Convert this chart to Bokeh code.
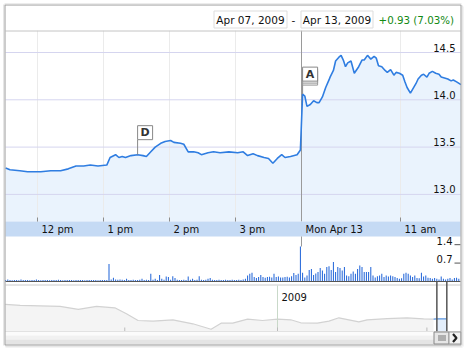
import numpy as np
import pandas as pd
from bokeh.plotting import figure
from bokeh.models import Range1d
from bokeh.core.properties import value
from bokeh.embed import file_html
from bokeh.resources import INLINE

# ---------------- data ----------------
thu_times = ["11:31", "11:35", "11:44", "11:51", "12:03", "12:12", "12:21", "12:28", "12:35", "12:42",
             "12:48", "12:55", "13:03", "13:06", "13:11", "13:14", "13:17", "13:20", "13:25", "13:31",
             "13:36", "13:39", "13:43", "13:47", "13:52", "13:56", "14:01", "14:04", "14:10", "14:13",
             "14:17", "14:22", "14:26", "14:29", "14:35", "14:40", "14:46", "14:54", "15:02", "15:07",
             "15:11", "15:16", "15:20", "15:26", "15:30", "15:34", "15:38", "15:42", "15:45", "15:50",
             "15:56", "15:59"]
thu_prices = [13.28, 13.26, 13.25, 13.24, 13.24, 13.25, 13.25, 13.27, 13.30, 13.30,
              13.31, 13.30, 13.31, 13.39, 13.42, 13.39, 13.40, 13.39, 13.41, 13.42,
              13.41, 13.40, 13.45, 13.50, 13.54, 13.56, 13.57, 13.55, 13.54, 13.53,
              13.45, 13.45, 13.44, 13.42, 13.44, 13.45, 13.44, 13.45, 13.44, 13.45,
              13.41, 13.43, 13.41, 13.39, 13.38, 13.33, 13.38, 13.42, 13.39, 13.40,
              13.42, 13.47]
mon_times = ["09:31", "09:33", "09:35", "09:38", "09:41", "09:44", "09:46", "09:49", "09:52", "09:55",
             "09:56", "09:59", "10:01", "10:04", "10:06", "10:08", "10:10", "10:12", "10:15", "10:18",
             "10:22", "10:25", "10:27", "10:30", "10:33", "10:36", "10:38", "10:40", "10:43", "10:46",
             "10:48", "10:51", "10:54", "10:56", "10:59", "11:02", "11:04", "11:06", "11:09", "11:14",
             "11:16", "11:19", "11:21", "11:24", "11:26", "11:29", "11:32", "11:35", "11:37", "11:40",
             "11:43", "11:46", "11:48", "11:51", "11:55"]
mon_prices = [14.06, 14.04, 13.93, 13.95, 13.99, 13.97, 13.97, 14.03, 14.13, 14.21,
              14.24, 14.31, 14.41, 14.45, 14.47, 14.42, 14.35, 14.39, 14.41, 14.28,
              14.35, 14.42, 14.42, 14.47, 14.43, 14.46, 14.44, 14.36, 14.35, 14.31,
              14.29, 14.32, 14.26, 14.29, 14.28, 14.26, 14.19, 14.13, 14.07, 14.17,
              14.22, 14.26, 14.27, 14.24, 14.28, 14.30, 14.28, 14.27, 14.24, 14.23,
              14.22, 14.20, 14.21, 14.19, 14.16]

# 2-minute volume bars (millions)
vol_thu = [0.06, 0.08, 0.06, 0.05, 0.06, 0.06, 0.05, 0.08, 0.06, 0.06,
           0.06, 0.05, 0.06, 0.06, 0.08, 0.06, 0.05, 0.06, 0.06, 0.06,
           0.05, 0.06, 0.06, 0.06, 0.07, 0.06, 0.05, 0.06, 0.06, 0.06,
           0.06, 0.05, 0.06, 0.06, 0.06, 0.06, 0.05, 0.06, 0.06, 0.06,
           0.06, 0.06, 0.05, 0.06, 0.06, 0.06, 0.06, 0.67, 0.08, 0.14,
           0.08, 0.07, 0.08, 0.07, 0.06, 0.10, 0.06, 0.06, 0.07, 0.06,
           0.06, 0.07, 0.10, 0.06, 0.07, 0.06, 0.29, 0.07, 0.10, 0.06,
           0.25, 0.10, 0.07, 0.19, 0.17, 0.07, 0.20, 0.13, 0.07, 0.06,
           0.06, 0.07, 0.06, 0.19, 0.07, 0.10, 0.06, 0.07, 0.20, 0.07,
           0.06, 0.07, 0.10, 0.13, 0.07, 0.06, 0.06, 0.07, 0.06, 0.06,
           0.07, 0.06, 0.06, 0.07, 0.06, 0.06, 0.07, 0.06, 0.08, 0.10,
           0.23, 0.29, 0.33, 0.17, 0.13, 0.17, 0.25, 0.17, 0.14, 0.17,
           0.18, 0.15, 0.29, 0.17, 0.19, 0.15, 0.15, 0.17, 0.18, 0.15,
           0.20, 0.32, 0.25, 0.29, 1.33]
vol_mon = [0.33, 0.15, 0.23, 0.44, 0.48, 0.25, 0.30, 0.36, 0.51, 0.42,
           0.29, 0.55, 0.58, 0.44, 0.74, 0.36, 0.55, 0.51, 0.42, 0.55,
           0.23, 0.20, 0.29, 0.38, 0.29, 0.48, 0.61, 0.55, 0.36, 0.36,
           0.36, 0.55, 0.23, 0.15, 0.20, 0.23, 0.29, 0.17, 0.23, 0.19,
           0.23, 0.20, 0.17, 0.13, 0.10, 0.12, 0.29, 0.33, 0.29, 0.23,
           0.17, 0.23, 0.13, 0.12, 0.33, 0.19, 0.23, 0.14, 0.13, 0.10,
           0.13, 0.10, 0.08, 0.19, 0.10, 0.08, 0.10, 0.13, 0.08, 0.13,
           0.14, 0.10]

hour_ticks = [("thu", "12:00"), ("thu", "13:00"), ("thu", "14:00"), ("thu", "15:00"),
              ("mon", "09:30"), ("mon", "11:00")]
hour_labels = ["12 pm", "1 pm", "2 pm", "3 pm", "Mon Apr 13", "11 am"]
price_ticks = [13.0, 13.5, 14.0, 14.5]
price_tick_labels = ["13.0", "13.5", "14.0", "14.5"]
vol_ticks = [0.7, 1.4]
vol_tick_labels = ["0.7", "1.4"]

flag_times = [("thu", "13:31"), ("mon", "09:31")]
flag_labels = ["D", "A"]

nav_dates = ["2008-07-21", "2008-07-30", "2008-08-11", "2008-08-23", "2008-09-03", "2008-09-14",
             "2008-09-25", "2008-10-02", "2008-10-09", "2008-10-18", "2008-10-30", "2008-11-11",
             "2008-11-22", "2008-11-28", "2008-12-05", "2008-12-14", "2008-12-23", "2009-01-01",
             "2009-01-09", "2009-01-15", "2009-01-25", "2009-02-01", "2009-02-07", "2009-02-19",
             "2009-02-24", "2009-03-08", "2009-03-20", "2009-03-30", "2009-04-05"]
nav_close = [29.8, 28.7, 28.3, 27.6, 24.3, 27.6, 26.1, 19.5, 12.1, 11.4, 12.9, 8.5,
             2.5, 9.2, 9.2, 13.6, 12.1, 13.6, 12.9, 9.6, 9.2, 11.4, 15.1, 10.7,
             12.9, 14.3, 15.1, 14.0, 13.6]
sel_dates = ["2009-04-05", "2009-04-07", "2009-04-13"]
sel_close = [13.6, 14.0, 14.0]
nav_quarter_ticks = ["2008-10-01", "2009-01-01", "2009-04-01"]
year_line = "2009-01-01"
year_label = "2009"

range_start = "Apr 07, 2009"
range_end = "Apr 13, 2009"
change_text = "+0.93 (7.03%)"

# ---------------- scales ----------------
W, H = 467, 350
FONT = value("DejaVu Sans")


def mins(day, hhmm):
    h, m = map(int, hhmm.split(":"))
    t = h * 60 + m
    return t - 690 if day == "thu" else 270 + t - 570


PPM = 1.1          # pixels per trading minute
PPU = 94.6         # pixels per price unit
X0, X1 = -4 / PPM, (W - 4) / PPM
Y1 = 14 + 99.3 / PPU
Y0 = 14 - (H - 99.3) / PPU
VPU = 26.3
V1, V0 = 281 / VPU, -(H - 281) / VPU
NPU = 0.907
N1, N0 = 331 / NPU, -(H - 331) / NPU
DAY = 86400000.0
JAN1 = pd.Timestamp(year_line).value / 1e6
NPD = 1.66
NX0, NX1 = JAN1 - 277 / NPD * DAY, JAN1 + (W - 277) / NPD * DAY
PYU = (Y1 - Y0) / H   # price units per pixel


def PX(px):
    return X0 + px * (X1 - X0) / W


def PY(py):
    return Y1 - py * PYU


def ms(d):
    return pd.Timestamp(d).value / 1e6


p = figure(width=W, height=H, x_range=Range1d(X0, X1), y_range=Range1d(Y0, Y1),
           output_backend="svg", toolbar_location=None, min_border=0,
           background_fill_color="white", border_fill_color="white", outline_line_color=None)
p.extra_y_ranges = {"vol": Range1d(V0, V1), "navy": Range1d(N0, N1)}
p.extra_x_ranges = {"navx": Range1d(NX0, NX1)}
p.axis.visible = False
p.grid.visible = False

# ---------------- price pane ----------------
xs = [mins("thu", t) for t in thu_times] + [mins("mon", t) for t in mon_times]
ys = thu_prices + mon_prices
base = PY(221)
p.varea(x=xs, y1=base, y2=ys, fill_color="#eaf3fd")

tick_x = [mins(d, t) for d, t in hour_ticks]
grid_x = [x for x, (d, t) in zip(tick_x, hour_ticks) if not (d == "mon" and t == "09:30")]
p.segment(x0=grid_x, x1=grid_x, y0=PY(30), y1=PY(221), line_color="#ebebeb", line_width=1)
p.segment(x0=PX(5), x1=PX(460), y0=price_ticks, y1=price_ticks, line_color="#d5d5ef", line_width=1)
sep = mins("mon", "09:30")
p.segment(x0=[sep], x1=[sep], y0=[PY(30)], y1=[PY(221)], line_color="#9a9a9a", line_width=1)

p.line(x=xs, y=ys, line_color="#2f7de1", line_width=1.6)

p.text(x=PX(455), y=price_ticks, text=price_tick_labels, text_font=FONT, text_font_size="10px",
       text_align="right", text_baseline="bottom", y_offset=-1, text_color="#111111")

# flags (anchored to the price at the flag's time)
pole_px = [15, 13]
for (d, t), lab, pl in zip(flag_times, flag_labels, pole_px):
    fx = mins(d, t)
    fy = ys[xs.index(fx)]
    top_pole = fy + pl * PYU
    p.segment(x0=[fx], x1=[fx], y0=[fy], y1=[top_pole], line_color="#888888", line_width=1)
    bw = 15 / PPM
    bh = 14 * PYU
    if lab == "A":
        for k in (4, 2):
            off = k * PYU
            p.quad(left=[fx], right=[fx + bw], bottom=[top_pole - off], top=[top_pole - off + bh],
                   fill_color="#f4f4f4", line_color="#999999")
    p.quad(left=[fx], right=[fx + bw], bottom=[top_pole], top=[top_pole + bh],
           fill_color="#ffffff", line_color="#888888")
    p.text(x=[fx + bw / 2], y=[top_pole + bh / 2], text=[lab], text_font=FONT, text_font_size="11px",
           text_font_style="bold", text_align="center", text_baseline="middle", text_color="#333333")

# header
p.quad(left=[PX(4)], right=[PX(461)], top=[PY(4)], bottom=[PY(30)], fill_color="white", line_color=None)
p.segment(x0=[PX(5)], x1=[PX(460)], y0=[PY(30.5)], y1=[PY(30.5)], line_color="#c4c4c4", line_width=1)
p.quad(left=[PX(213.5), PX(300.5)], right=[PX(286.5), PX(372.5)], top=[PY(10.5)] * 2, bottom=[PY(27.5)] * 2,
       fill_color="white", line_color="#dddddd")
p.text(x=[PX(250), PX(336.5), PX(293)], y=[PY(19.5)] * 3, text=[range_start, range_end, "-"],
       text_font=FONT, text_font_size="10.5px", text_align="center", text_baseline="middle",
       text_color="#111111")
p.text(x=[PX(378)], y=[PY(19.5)], text=[change_text], text_font=FONT, text_font_size="10.3px",
       text_align="left", text_baseline="middle", text_color="#138a13")

# time axis band
p.quad(left=[PX(5)], right=[PX(460)], top=[PY(221)], bottom=[PY(236)], fill_color="#c5daf4", line_color=None)
p.segment(x0=grid_x, x1=grid_x, y0=PY(217), y1=PY(221), line_color="#8c8c8c", line_width=1)
p.text(x=tick_x, y=PY(229), text=hour_labels, text_font=FONT, text_font_size="10px",
       text_align="left", text_baseline="middle", x_offset=4, text_color="#111111")

# ---------------- volume pane ----------------
vol = vol_thu + vol_mon
vx = [1 + 2 * k for k in range(len(vol_thu))] + [271 + 2 * k for k in range(len(vol_mon))]
p.segment(x0=[sep], x1=[sep], y0=[PY(236)], y1=[PY(246)], line_color="#9a9a9a", line_width=1)
p.vbar(x=vx, top=vol, bottom=0, width=1 / PPM, fill_color="#1d62d8", line_color=None, y_range_name="vol")
p.segment(x0=[PX(5)], x1=[PX(460)], y0=[0], y1=[0], line_color="#555555", line_width=1, y_range_name="vol")
p.text(x=PX(452), y=vol_ticks, text=vol_tick_labels, text_font=FONT, text_font_size="10px",
       text_align="right", text_baseline="middle", y_offset=-4, text_color="#111111", y_range_name="vol")
p.segment(x0=PX(454), x1=PX(460), y0=vol_ticks, y1=vol_ticks, line_color="#555555", line_width=1,
          y_range_name="vol")

# ---------------- navigator ----------------
p.segment(x0=[PX(5)], x1=[PX(460)], y0=[PY(284.5)], y1=[PY(284.5)], line_color="#cccccc", line_width=1)
nd = [ms(d) for d in nav_dates]
p.varea(x=nd, y1=0, y2=nav_close, fill_color="#f4f4f4", x_range_name="navx", y_range_name="navy")
p.line(x=nd, y=nav_close, line_color="#d2d2d2", line_width=1.2, x_range_name="navx", y_range_name="navy")
sd = [ms(d) for d in sel_dates]
p.varea(x=sd[1:], y1=0, y2=sel_close[1:], fill_color="#e3eefb", x_range_name="navx", y_range_name="navy")
p.line(x=sd, y=sel_close, line_color="#5b95e0", line_width=1.2, x_range_name="navx", y_range_name="navy")
p.segment(x0=[ms(year_line)], x1=[ms(year_line)], y0=[N1 - 285 / NPU], y1=[0], line_color="#c9d9c9",
          line_width=1, x_range_name="navx", y_range_name="navy")
p.text(x=[ms(year_line)], y=[N1 - 296 / NPU], text=[year_label], text_font=FONT, text_font_size="10px",
       text_align="left", text_baseline="middle", x_offset=4, text_color="#111111",
       x_range_name="navx", y_range_name="navy")
qt = [ms(d) for d in nav_quarter_ticks]
p.segment(x0=qt, x1=qt, y0=0, y1=4 / NPU, line_color="#bbbbbb", line_width=1,
          x_range_name="navx", y_range_name="navy")
p.segment(x0=[PX(5)], x1=[PX(460)], y0=[PY(331)], y1=[PY(331)], line_color="#c8c8c8", line_width=1)

# handle around selected range
h0, h1 = ms(sel_dates[1]), ms(sel_dates[2])
p.segment(x0=[h0, h1], x1=[h0, h1], y0=[N1 - 281 / NPU] * 2, y1=[0, 0], line_color="#555555",
          line_width=1.5, x_range_name="navx", y_range_name="navy")

# scroll bar
for a, b, c in [(331, 335, "#fbfbfb"), (335, 339, "#f1f1f1"), (339, 344, "#e4e4e4")]:
    p.quad(left=[PX(5)], right=[PX(460)], top=[PY(a)], bottom=[PY(b)], fill_color=c, line_color=None)
p.quad(left=[PX(433.5)], right=[PX(448.5)], top=[PY(331.5)], bottom=[PY(343.5)], fill_color="#e6e6e6",
       line_color="#888888")
gx = [PX(438.5), PX(440.5), PX(442.5), PX(444.5)]
p.segment(x0=gx, x1=gx, y0=PY(334.5), y1=PY(340.5), line_color="#777777", line_width=1)
p.quad(left=[PX(448.5)], right=[PX(460.5)], top=[PY(331.5)], bottom=[PY(343.5)], fill_color="#f2f2f2",
       line_color="#999999")
p.line(x=[PX(452.5), PX(456), PX(452.5)], y=[PY(333.5), PY(337.5), PY(341.5)], line_color="#222222",
       line_width=2.2)

# frame and shadow
p.quad(left=[PX(4.5)], right=[PX(460.5)], top=[PY(4.5)], bottom=[PY(344.5)], fill_color=None,
       line_color="#9a9a9a", line_width=1)
p.segment(x0=[PX(461.5), PX(462.5), PX(3.5), PX(5)], x1=[PX(461.5), PX(462.5), PX(3.5), PX(461)],
          y0=[PY(5), PY(6), PY(4), PY(345.5)], y1=[PY(345), PY(346), PY(345), PY(345.5)],
          line_color=["#c8c8c8", "#e8e8e8", "#cccccc", "#c8c8c8"], line_width=1)
p.segment(x0=[PX(5)], x1=[PX(462)], y0=[PY(346.5)], y1=[PY(346.5)], line_color="#e8e8e8", line_width=1)
p.segment(x0=[PX(4)], x1=[PX(461)], y0=[PY(3.5)], y1=[PY(3.5)], line_color="#d8d8d8", line_width=1)

open("out.html", "w").write(file_html(p, INLINE))
